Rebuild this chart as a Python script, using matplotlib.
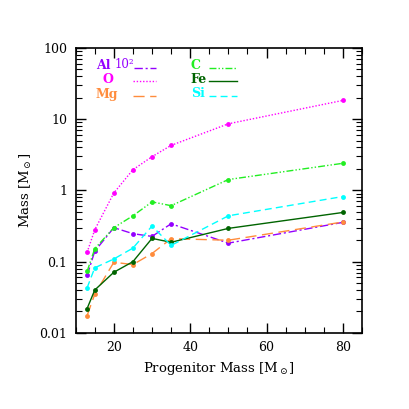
import numpy as np
import matplotlib
matplotlib.use('Agg')
import matplotlib.pyplot as plt
from matplotlib.ticker import FixedLocator, MultipleLocator, NullFormatter

plt.rcParams['font.family'] = ['DejaVu Serif']
plt.rcParams['mathtext.fontset'] = 'dejavuserif'

# progenitor masses (solar masses)
mass = [13, 15, 20, 25, 30, 35, 50, 80]

# ejected masses per element (solar masses); Al scaled by 10^2
al = [0.064, 0.14, 0.30, 0.247, 0.226, 0.34, 0.182, 0.356]
o = [0.135, 0.28, 0.92, 1.95, 2.97, 4.28, 8.6, 18.3]
mg = [0.0175, 0.035, 0.098, 0.091, 0.13, 0.21, 0.20, 0.36]
c = [0.073, 0.152, 0.30, 0.44, 0.69, 0.61, 1.42, 2.4]
fe = [0.022, 0.040, 0.071, 0.10, 0.212, 0.187, 0.293, 0.49]
si = [0.043, 0.082, 0.109, 0.155, 0.316, 0.169, 0.44, 0.82]

col_al = '#9400ff'
col_o = '#ff00ff'
col_mg = '#ff8c3c'
col_c = '#22ee22'
col_fe = '#006400'
col_si = '#00ffff'

ls_al = (0, (6, 2, 1.5, 2))
ls_o = (0, (1, 1.3))
ls_mg = (0, (8, 4))
ls_c = (0, (5, 1.5, 1, 1.5, 1, 1.5))
ls_fe = '-'
ls_si = (0, (5, 3))

fig = plt.figure(figsize=(4.09, 4.09), dpi=100)
ax = fig.add_axes([0.185, 0.186, 0.700, 0.697])

series = [(al, col_al, ls_al), (o, col_o, ls_o), (mg, col_mg, ls_mg),
          (c, col_c, ls_c), (fe, col_fe, ls_fe), (si, col_si, ls_si)]
for vals, col, ls in series:
    ax.plot(mass, vals, color=col, linestyle=ls, linewidth=1.0,
            marker='o', markersize=3.5, markeredgewidth=0)

ax.set_yscale('log')
ax.set_xlim(10, 85)
ax.set_ylim(0.01, 100)
ax.xaxis.set_major_locator(FixedLocator([20, 40, 60, 80]))
ax.xaxis.set_minor_locator(MultipleLocator(5))
ax.set_yticks([0.01, 0.1, 1, 10, 100])
ax.set_yticklabels(['0.01', '0.1', '1', '10', '100'])
ax.yaxis.set_minor_formatter(NullFormatter())
ax.tick_params(which='both', direction='in', top=True, right=True,
               labelsize=9, pad=6)
ax.tick_params(which='major', length=7, width=1)
ax.tick_params(which='minor', length=4, width=0.8)
for s in ax.spines.values():
    s.set_linewidth(1.2)

ax.set_xlabel(r'Progenitor Mass [M$_\odot$]', fontsize=9.5)
ax.set_ylabel(r'Mass [M$_\odot$]', fontsize=9.5)

# legend drawn by hand
tr = ax.transAxes
fs = 9
ax.text(0.071, 0.939, 'Al', color=col_al, fontsize=fs, weight='bold',
        transform=tr, va='center')
ax.text(0.135, 0.941, '10²', color=col_al, fontsize=8.5,
        transform=tr, va='center')
ax.text(0.095, 0.890, 'O', color=col_o, fontsize=fs, weight='bold',
        transform=tr, va='center')
ax.text(0.071, 0.838, 'Mg', color=col_mg, fontsize=fs, weight='bold',
        transform=tr, va='center')
ax.text(0.402, 0.939, 'C', color=col_c, fontsize=fs, weight='bold',
        transform=tr, va='center')
ax.text(0.402, 0.890, 'Fe', color=col_fe, fontsize=fs, weight='bold',
        transform=tr, va='center')
ax.text(0.402, 0.840, 'Si', color=col_si, fontsize=fs, weight='bold',
        transform=tr, va='center')
ax.plot([0.205, 0.280], [0.930, 0.930], color=col_al, ls=ls_al, lw=1.0, transform=tr)
ax.plot([0.200, 0.280], [0.882, 0.882], color=col_o, ls=ls_o, lw=1.0, transform=tr)
ax.plot([0.200, 0.280], [0.830, 0.830], color=col_mg, ls=ls_mg, lw=1.0, transform=tr)
ax.plot([0.466, 0.564], [0.930, 0.930], color=col_c, ls=ls_c, lw=1.0, transform=tr)
ax.plot([0.466, 0.564], [0.882, 0.882], color=col_fe, ls=ls_fe, lw=1.0, transform=tr)
ax.plot([0.466, 0.564], [0.830, 0.830], color=col_si, ls=ls_si, lw=1.0, transform=tr)

fig.savefig('out.png', dpi=100)
